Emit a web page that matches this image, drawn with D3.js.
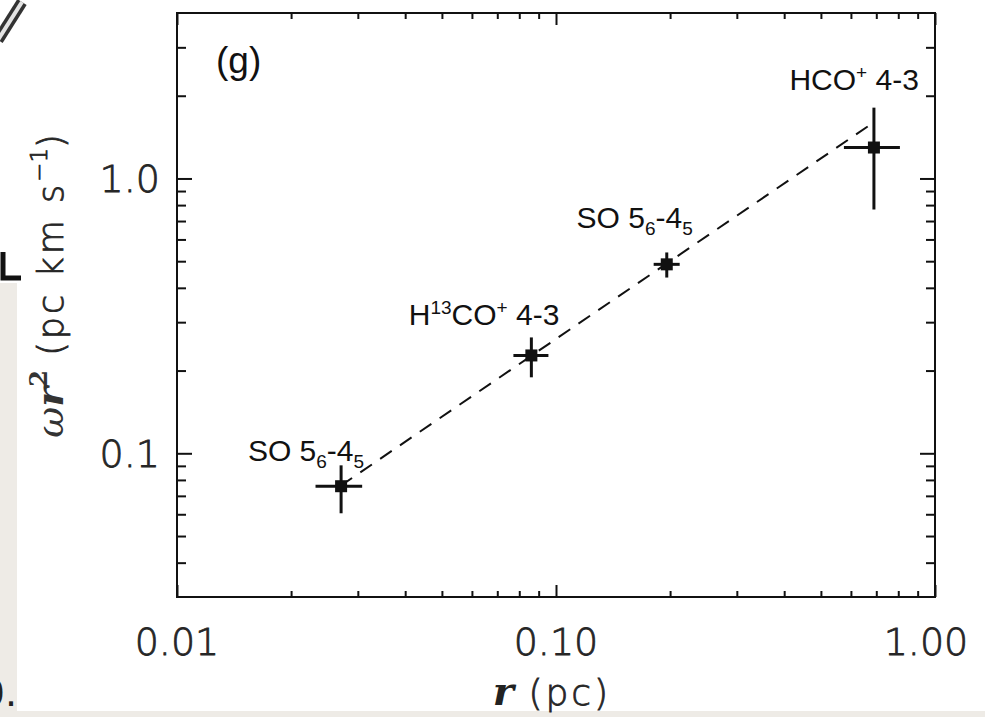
<!DOCTYPE html>
<html>
<head>
<meta charset="utf-8">
<script src="https://cdn.jsdelivr.net/npm/d3@7"></script>
<style>
  html, body { margin: 0; padding: 0; background: #fff; }
  svg { display: block; }
  .thin { font-family: "DejaVu Sans", sans-serif; font-weight: 200; fill: #262626; stroke: #262626; stroke-width: 0.8; }
  .line-label { font-family: "Liberation Sans", Arial, sans-serif; fill: #111; }
</style>
</head>
<body>
<div id="chart"></div>
<script>
"use strict";

// Measured points: radius r (pc) and omega*r^2 (pc km/s), with error limits
const lineNames = ["SO 5_{6}-4_{5}", "H^{13}CO^{+} 4-3", "SO 5_{6}-4_{5}", "HCO^{+} 4-3"];
const radius = [0.0271, 0.0861, 0.196, 0.690];
const radiusLo = [0.0232, 0.0772, 0.181, 0.575];
const radiusHi = [0.0308, 0.0955, 0.212, 0.808];
const omegaR2 = [0.0759, 0.227, 0.487, 1.296];
const omegaR2Lo = [0.0605, 0.189, 0.436, 0.771];
const omegaR2Hi = [0.0904, 0.264, 0.538, 1.81];

// Power-law fit: omega r^2 = fitCoef * r^fitSlope, drawn over fitRange
const fitCoef = 2.27;
const fitSlope = 0.94;
const fitRange = [0.027, 0.665];

// Axis ticks
const xMajor = [0.01, 0.1, 1];
const xMinor = [0.02, 0.03, 0.04, 0.05, 0.06, 0.07, 0.08, 0.09, 0.2, 0.3, 0.4, 0.5, 0.6, 0.7, 0.8, 0.9];
const xTickText = ["0.01", "0.10", "1.00"];
const yMajor = [0.1, 1];
const yMinor = [0.04, 0.05, 0.06, 0.07, 0.08, 0.09, 0.2, 0.3, 0.4, 0.5, 0.6, 0.7, 0.8, 0.9, 2, 3];
const yTickText = ["0.1", "1.0"];

// label placement relative to each point (end anchor, px)
const labelOffset = [[23, -25], [28, -30], [26, -36], [45, -58]];

const width = 985, height = 717;
const frame = { left: 177, right: 935, top: 13, bottom: 597 };

const svg = d3.select("#chart").append("svg")
    .attr("width", width)
    .attr("height", height);

svg.append("rect").attr("width", width).attr("height", height).attr("fill", "#fff");

// bits of the neighbouring panel showing at the left and bottom edges
svg.append("rect").attr("x", 0).attr("y", 283).attr("width", 17).attr("height", height - 283).attr("fill", "#eeebe6");
svg.append("rect").attr("x", 0).attr("y", 711).attr("width", width).attr("height", 6).attr("fill", "#eeebe6");
svg.append("path").attr("d", "M3,252 V278 H21").attr("fill", "none").attr("stroke", "#111").attr("stroke-width", 5);
svg.append("path").attr("d", "M-2,40 L22,2").attr("stroke", "#333").attr("stroke-width", 11);
svg.append("path").attr("d", "M-2,40 L22,2").attr("stroke", "#e4e4e4").attr("stroke-width", 4);
svg.append("text").attr("x", 17).attr("y", 706).attr("text-anchor", "end")
    .attr("font-family", "DejaVu Sans").attr("font-size", 38).attr("fill", "#222").text("0.");

const x = d3.scaleLog().domain([0.01, 1]).range([frame.left, frame.right]);
const y = d3.scaleLog().domain([0.03, 4]).range([frame.bottom, frame.top]);

// ticks on all four sides, pointing inward
function tickAxis(axisFn, scale, values, size, transform) {
    const g = svg.append("g")
        .attr("transform", transform)
        .call(axisFn(scale).tickValues(values).tickSize(size).tickFormat(""));
    g.select(".domain").remove();
    g.selectAll(".tick line").attr("stroke", "#111").attr("stroke-width", 2);
}
tickAxis(d3.axisBottom, x, xMinor, -6, `translate(0,${frame.bottom})`);
tickAxis(d3.axisBottom, x, xMajor, -12, `translate(0,${frame.bottom})`);
tickAxis(d3.axisTop, x, xMinor, -6, `translate(0,${frame.top})`);
tickAxis(d3.axisTop, x, xMajor, -12, `translate(0,${frame.top})`);
tickAxis(d3.axisLeft, y, yMinor, -9, `translate(${frame.left},0)`);
tickAxis(d3.axisLeft, y, yMajor, -15, `translate(${frame.left},0)`);
tickAxis(d3.axisRight, y, yMinor, -9, `translate(${frame.right},0)`);
tickAxis(d3.axisRight, y, yMajor, -15, `translate(${frame.right},0)`);

svg.append("rect")
    .attr("x", frame.left).attr("y", frame.top)
    .attr("width", frame.right - frame.left).attr("height", frame.bottom - frame.top)
    .attr("fill", "none").attr("stroke", "#111").attr("stroke-width", 2);

// tick labels
svg.append("g").selectAll("text").data(xMajor).join("text")
    .attr("class", "thin")
    .attr("x", (d, i) => x(d) - (i === xMajor.length - 1 ? 9 : 0))
    .attr("y", 655)
    .attr("text-anchor", "middle")
    .attr("font-size", 38)
    .text((d, i) => xTickText[i]);

svg.append("g").selectAll("text").data(yMajor).join("text")
    .attr("class", "thin")
    .attr("x", frame.left - 17)
    .attr("y", d => y(d) + 14)
    .attr("text-anchor", "end")
    .attr("font-size", 38)
    .text((d, i) => yTickText[i]);

// axis titles
const xTitle = svg.append("text")
    .attr("x", (frame.left + frame.right) / 2 - 4)
    .attr("y", 705)
    .attr("text-anchor", "middle")
    .attr("fill", "#222");
xTitle.append("tspan").attr("font-family", "DejaVu Serif").attr("font-style", "italic")
    .attr("font-weight", "bold").attr("font-size", 40).text("r");
xTitle.append("tspan").attr("class", "thin")
    .attr("font-size", 36).attr("letter-spacing", 3).text(" (pc)");

const yTitle = svg.append("text")
    .attr("transform", "translate(63,286) rotate(-90)")
    .attr("text-anchor", "middle")
    .attr("fill", "#333");
yTitle.append("tspan").attr("font-family", "DejaVu Serif").attr("font-style", "italic")
    .attr("font-size", 38).text("ω");
yTitle.append("tspan").attr("font-family", "DejaVu Serif").attr("font-style", "italic")
    .attr("font-weight", "bold").attr("font-size", 38).text("r");
yTitle.append("tspan").attr("font-family", "DejaVu Serif").attr("font-weight", "bold")
    .attr("font-size", 24).attr("dy", -16).text("2");
yTitle.append("tspan").attr("class", "thin")
    .attr("font-size", 35).attr("dy", 16).attr("letter-spacing", 3).text(" (pc km s");
yTitle.append("tspan").attr("class", "thin")
    .attr("font-size", 23).attr("dy", -16).text("−1");
yTitle.append("tspan").attr("class", "thin")
    .attr("font-size", 35).attr("dy", 16).text(")");

// panel tag
svg.append("text").attr("class", "line-label")
    .attr("x", 216).attr("y", 73).attr("font-size", 37).attr("fill", "#222").text("(g)");

// fit line
const fitLine = d3.line()
    .x(d => x(d))
    .y(d => y(fitCoef * Math.pow(d, fitSlope)));
svg.append("path")
    .datum(fitRange)
    .attr("d", fitLine)
    .attr("fill", "none")
    .attr("stroke", "#111")
    .attr("stroke-width", 2)
    .attr("stroke-dasharray", "14,10");

// error bars and markers
const idx = d3.range(radius.length);
const marks = svg.append("g");
marks.selectAll(".xerr").data(idx).join("line")
    .attr("x1", i => x(radiusLo[i])).attr("x2", i => x(radiusHi[i]))
    .attr("y1", i => y(omegaR2[i])).attr("y2", i => y(omegaR2[i]))
    .attr("stroke", "#111").attr("stroke-width", 3);
marks.selectAll(".yerr").data(idx).join("line")
    .attr("x1", i => x(radius[i])).attr("x2", i => x(radius[i]))
    .attr("y1", i => y(omegaR2Lo[i])).attr("y2", i => y(omegaR2Hi[i]))
    .attr("stroke", "#111").attr("stroke-width", 3);
marks.selectAll("rect").data(idx).join("rect")
    .attr("x", i => x(radius[i]) - 6).attr("y", i => y(omegaR2[i]) - 6)
    .attr("width", 12).attr("height", 12)
    .attr("fill", "#111");

// line labels with sub/superscripts written as _{..} and ^{..}
function addRichText(sel, str) {
    const re = /([_^])\{([^}]*)\}|([^_^]+)/g;
    let m, shift = 0;
    while ((m = re.exec(str)) !== null) {
        if (m[3] !== undefined) {
            sel.append("tspan").attr("dy", -shift).attr("font-size", 30).text(m[3]);
            shift = 0;
        } else {
            const s = m[1] === "^" ? -11 : 7;
            sel.append("tspan").attr("dy", s - shift).attr("font-size", 19).text(m[2]);
            shift = s;
        }
    }
    if (shift) sel.append("tspan").attr("dy", -shift).text("");
}
idx.forEach(i => {
    const t = svg.append("text").attr("class", "line-label")
        .attr("x", x(radius[i]) + labelOffset[i][0])
        .attr("y", y(omegaR2[i]) + labelOffset[i][1])
        .attr("text-anchor", "end");
    addRichText(t, lineNames[i]);
});
</script>
</body>
</html>
